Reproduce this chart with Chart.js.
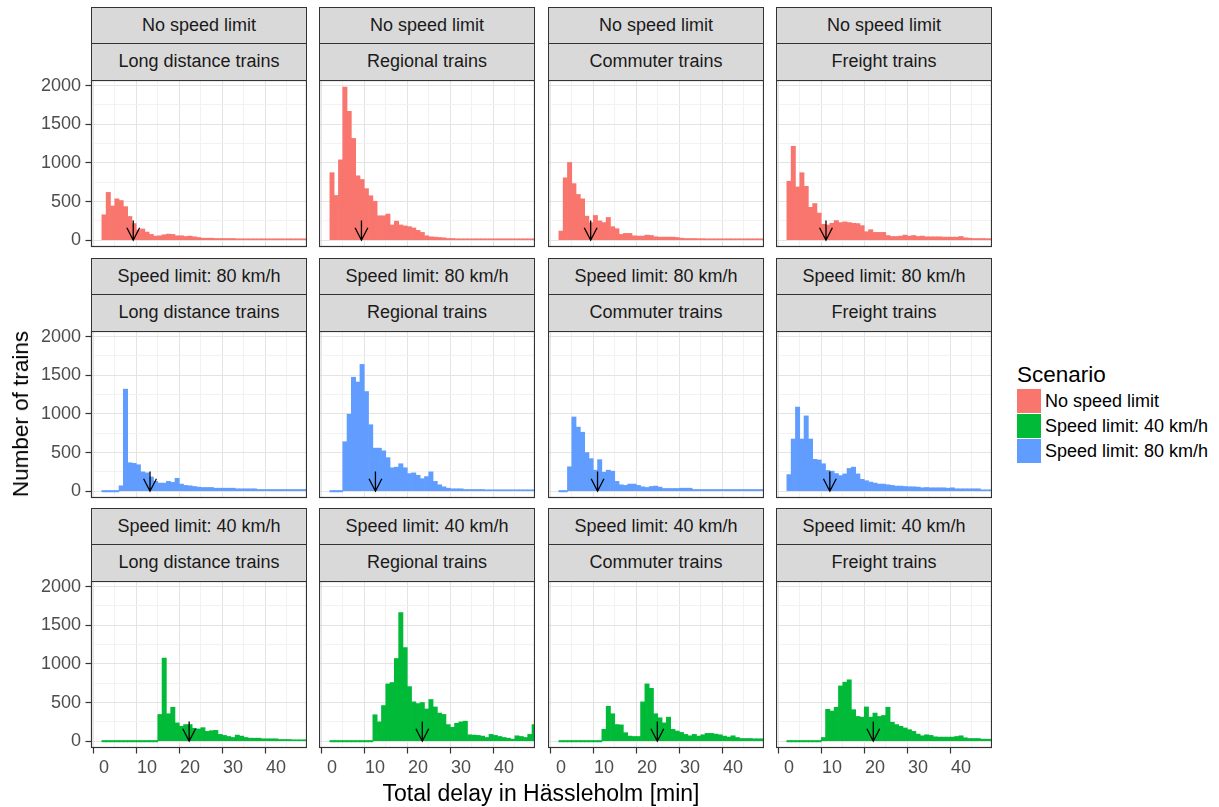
<!DOCTYPE html>
<html>
<head>
<meta charset="utf-8">
<script src="https://cdn.jsdelivr.net/npm/chart.js@4.4.1/dist/chart.umd.min.js"></script>
<style>
  body { margin: 0; background: #fff; font-family: "Liberation Sans", Arial, sans-serif; }
  #wrap { position: relative; width: 1219px; height: 807px; overflow: hidden; }
  canvas { position: absolute; }
  .strip { position: absolute; box-sizing: border-box; background: #D9D9D9; border: 1px solid #333;
           color: #1A1A1A; font-size: 18px; text-align: center; line-height: 35px; white-space: nowrap; }
  .txt { position: absolute; white-space: nowrap; color: #000; }
</style>
</head>
<body>
<div id="wrap"></div>
<script>
// histogram bins (minutes), one count per bin
const bins = [0,1,2,3,4,5,6,7,8,9,10,11,12,13,14,15,16,17,18,19,20,21,22,23,24,25,26,27,28,29,30,31,32,33,34,35,36,37,38,39,40,41,42,43,44,45,46,47];
const xTickLabels = [0, 10, 20, 30, 40];
const xMinorTicks = [5, 15, 25, 35, 45];
const yTickLabels = [0, 500, 1000, 1500, 2000];
const yMinorTicks = [250, 750, 1250, 1750];

const trainTypes = ['Long distance trains', 'Regional trains', 'Commuter trains', 'Freight trains'];
const scenarios = ['No speed limit', 'Speed limit: 80 km/h', 'Speed limit: 40 km/h'];
const legendOrder = ['No speed limit', 'Speed limit: 40 km/h', 'Speed limit: 80 km/h'];
const scenarioColors = {
  'No speed limit': '#F8766D',
  'Speed limit: 40 km/h': '#00BA38',
  'Speed limit: 80 km/h': '#619CFF'
};

const longNoLimit = [329,618,443,535,513,434,307,215,132,145,105,75,53,57,70,79,75,57,57,48,53,44,35,26,26,26,22,22,22,22,22,18,18,18,18,18,15,15,15,15,13,13,13,13,13,13,13,13];
const regionalNoLimit = [873,579,1039,1980,1667,1316,833,785,667,575,504,316,316,338,197,246,197,184,175,158,127,101,57,44,40,35,31,22,22,18,18,15,15,13,13,13,13,13,13,13,13,13,11,11,11,11,11,11];
const commuterNoLimit = [118,807,1005,732,592,535,311,228,320,250,228,294,175,149,75,88,88,57,53,53,66,61,44,40,40,40,40,35,26,22,22,22,20,20,18,18,15,15,15,13,13,13,13,13,13,13,13,13];
const freightNoLimit = [763,1215,689,873,697,425,474,351,206,197,219,254,228,237,228,219,215,189,110,136,101,101,101,61,48,48,53,66,53,61,48,53,44,44,44,44,40,40,40,40,48,31,26,22,22,22,20,20];

const long80 = [0,0,0,0,70,1320,368,360,342,250,237,184,127,105,105,127,114,167,92,75,70,61,53,48,48,48,39,39,39,39,39,31,31,31,31,31,22,22,22,22,22,22,22,22,22,22,22,22];
const regional80 = [0,0,0,640,996,1474,1412,1640,1289,860,557,557,522,434,303,311,355,303,228,237,206,162,189,250,127,83,57,39,31,31,31,22,22,22,22,22,13,13,13,13,13,13,13,13,13,13,13,13];
const commuter80 = [0,0,316,960,829,763,500,421,272,408,246,272,259,127,83,75,92,92,75,57,48,61,66,53,35,35,35,35,39,39,39,22,22,22,22,22,22,22,22,22,22,22,22,22,22,22,22,22];
const freight80 = [215,675,1088,675,974,675,412,404,355,268,259,228,202,224,294,311,224,154,136,118,105,92,92,83,75,66,66,61,57,57,53,44,48,44,44,44,44,39,44,31,31,31,31,31,31,18,18,18];

const long40 = [0,0,0,0,0,0,0,0,0,0,0,0,0,346,1075,355,439,237,193,215,215,167,158,175,127,136,140,88,75,61,48,79,66,48,39,39,39,31,31,31,31,22,22,22,13,13,13,13];
const regional40 = [0,0,0,0,0,0,0,0,0,0,342,250,461,741,759,1070,1662,1211,706,509,487,500,417,539,443,364,346,215,180,232,250,259,83,79,75,66,48,88,75,61,48,39,26,70,61,48,88,215];
const commuter40 = [0,0,0,0,0,0,0,0,0,0,154,452,355,215,211,110,66,61,61,509,741,684,355,303,237,311,154,132,114,88,70,88,66,83,101,101,92,83,66,53,70,48,35,35,35,31,31,31];
const freight40 = [0,0,0,0,0,0,0,0,48,412,390,439,715,763,794,408,320,311,443,311,364,320,333,439,246,215,193,171,149,127,92,70,83,75,57,53,53,53,53,61,70,44,35,35,35,26,26,26];

// mean delay per panel (arrow position)
const meanNoLimit = [6.8, 6.85, 6.9, 8.6];
const mean80 = [10.7, 10.1, 8.5, 9.5];
const mean40 = [19.8, 21.0, 22.4, 19.6];
const arrowTop = 255;

const counts = [
  [longNoLimit, regionalNoLimit, commuterNoLimit, freightNoLimit],
  [long80, regional80, commuter80, freight80],
  [long40, regional40, commuter40, freight40]
];
const means = [meanNoLimit, mean80, mean40];

// layout
const panelLeft = [91, 319, 548, 776];
const panelTop = [80, 331, 581];
const panelW = 216, panelH = 167;
const pad = 12; // room above/below the panel so edge tick labels are not cut
const FONT = '"Liberation Sans", Arial, sans-serif';
const wrap = document.getElementById('wrap');

const isMajor = (ctx, majors) => !!(ctx && ctx.tick && majors.includes(ctx.tick.value));

const meanArrow = {
  id: 'meanArrow',
  afterDatasetsDraw(chart, args, opts) {
    const { ctx, scales: { x, y } } = chart;
    const px = x.getPixelForValue(opts.x);
    const y0 = y.getPixelForValue(0);
    const y1 = y.getPixelForValue(arrowTop);
    ctx.save();
    ctx.strokeStyle = '#000';
    ctx.lineWidth = 1.3;
    ctx.beginPath();
    ctx.moveTo(px, y1); ctx.lineTo(px, y0);
    ctx.moveTo(px - 6.4, y0 - 12.5); ctx.lineTo(px, y0); ctx.lineTo(px + 6.4, y0 - 12.5);
    ctx.stroke();
    ctx.restore();
  }
};

const panelBorder = {
  id: 'panelBorder',
  afterDraw(chart) {
    const { ctx, chartArea: a } = chart;
    ctx.save();
    ctx.strokeStyle = '#333';
    ctx.lineWidth = 1.2;
    ctx.strokeRect(a.left + 0.5, a.top + 0.5, a.right - a.left - 1, a.bottom - a.top - 1);
    ctx.restore();
  }
};

function addDiv(cls, text, css) {
  const d = document.createElement('div');
  d.className = cls;
  d.textContent = text;
  Object.assign(d.style, css);
  wrap.appendChild(d);
  return d;
}

function makePanel(r, c) {
  const showY = c === 0, showX = r === 2;
  const axW = showY ? 60 : 0, axH = showX ? 32 : 0;
  const cv = document.createElement('canvas');
  cv.width = panelW + axW; cv.height = panelH + axH + 2 * pad;
  cv.style.left = (panelLeft[c] - axW) + 'px';
  cv.style.top = (panelTop[r] - pad) + 'px';
  cv.style.width = cv.width + 'px'; cv.style.height = cv.height + 'px';
  wrap.appendChild(cv);

  // strips
  addDiv('strip', scenarios[r], { left: panelLeft[c] + 'px', top: (panelTop[r] - 73) + 'px', width: panelW + 'px', height: '37px' });
  addDiv('strip', trainTypes[c], { left: panelLeft[c] + 'px', top: (panelTop[r] - 37) + 'px', width: panelW + 'px', height: '38px' });

  const color = scenarioColors[scenarios[r]];
  const data = counts[r][c];

  new Chart(cv, {
    type: 'bar',
    data: {
      datasets: [{
        data: bins.map((b, i) => ({ x: b, y: data[i] })),
        backgroundColor: color,
        borderWidth: 0,
        barPercentage: 1,
        categoryPercentage: 1,
        minBarLength: 1.4
      }]
    },
    options: {
      responsive: false,
      animation: false,
      events: [],
      layout: { padding: { top: pad, bottom: pad, left: 0, right: 0 } },
      plugins: {
        legend: { display: false },
        tooltip: { enabled: false },
        meanArrow: { x: means[r][c] }
      },
      scales: {
        x: {
          type: 'linear',
          min: -3.02,
          max: 47.2,
          offset: false,
          border: { display: false },
          afterBuildTicks: s => { s.ticks = xTickLabels.concat(xMinorTicks).sort((a, b) => a - b).map(v => ({ value: v })); },
          afterFit: s => { s.height = axH; s.paddingLeft = 0; s.paddingRight = 0; },
          grid: {
            color: ctx => isMajor(ctx, xTickLabels) ? '#E4E4E4' : '#F2F2F2',
            lineWidth: 1,
            drawTicks: showX,
            tickLength: 5.5,
            tickColor: ctx => isMajor(ctx, xTickLabels) ? '#333' : 'rgba(0,0,0,0)',
            tickWidth: 1.2
          },
          ticks: {
            display: showX,
            autoSkip: false,
            maxRotation: 0,
            padding: 4,
            color: '#4D4D4D',
            font: { family: FONT, size: 18 },
            callback: v => xTickLabels.includes(v) ? String(v) : ''
          }
        },
        y: {
          min: -88,
          max: 2072,
          border: { display: false },
          afterBuildTicks: s => { s.ticks = yTickLabels.concat(yMinorTicks).sort((a, b) => a - b).map(v => ({ value: v })); },
          afterFit: s => { s.width = axW; s.paddingTop = 0; s.paddingBottom = 0; },
          grid: {
            color: ctx => isMajor(ctx, yTickLabels) ? '#E4E4E4' : '#F2F2F2',
            lineWidth: 1,
            drawTicks: showY,
            tickLength: 5.5,
            tickColor: ctx => isMajor(ctx, yTickLabels) ? '#333' : 'rgba(0,0,0,0)',
            tickWidth: 1.2
          },
          ticks: {
            display: showY,
            autoSkip: false,
            padding: 4.5,
            color: '#4D4D4D',
            font: { family: FONT, size: 18 },
            callback: v => yTickLabels.includes(v) ? String(v) : ''
          }
        }
      }
    },
    plugins: [meanArrow, panelBorder]
  });
}

for (let r = 0; r < 3; r++) for (let c = 0; c < 4; c++) makePanel(r, c);

// axis titles
addDiv('txt', 'Total delay in Hässleholm [min]', { left: '541px', top: '793px', fontSize: '23px', transform: 'translate(-50%, -50%)' });
addDiv('txt', 'Number of trains', { left: '21px', top: '414px', fontSize: '22.5px', transform: 'translate(-50%, -50%) rotate(-90deg)' });

// legend
addDiv('txt', 'Scenario', { left: '1017px', top: '375px', fontSize: '22.5px', transform: 'translateY(-50%)' });
legendOrder.forEach((name, i) => {
  const top = 389 + i * 25;
  addDiv('txt', '', { left: '1017px', top: top + 'px', width: '24px', height: '24px', background: scenarioColors[name] });
  addDiv('txt', name, { left: '1045px', top: (top + 12) + 'px', fontSize: '18px', transform: 'translateY(-50%)', color: '#000' });
});
</script>
</body>
</html>
